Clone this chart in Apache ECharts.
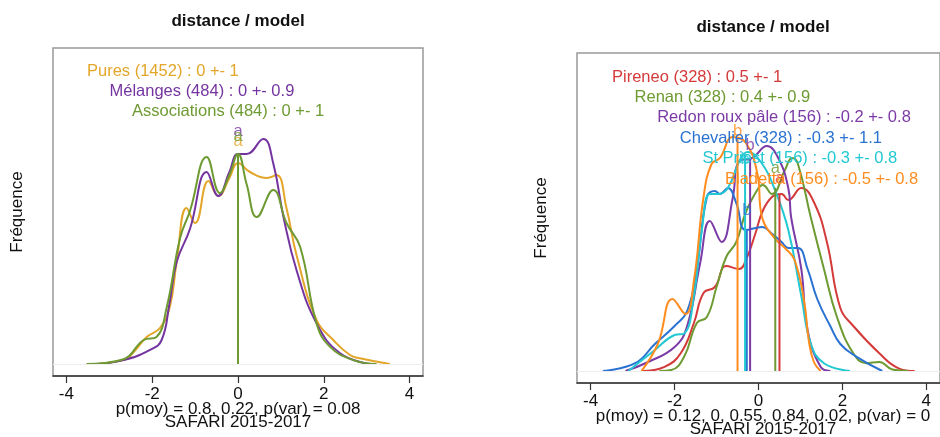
<!DOCTYPE html>
<html><head><meta charset="utf-8">
<script src="https://cdn.jsdelivr.net/npm/echarts@6/dist/echarts.min.js"></script>
<style>html,body{margin:0;padding:0;background:#fff}#c{width:940px;height:437px}</style>
</head><body><div id="c"></div>
<script>
// ---------- DATA ----------
var xTicks = [-4, -2, 0, 2, 4];
var titleText = 'distance / model';
var yLabelText = 'Fréquence';
var footerText = 'SAFARI 2015-2017';

// Left panel
var leftNames  = ['Pures', 'Mélanges', 'Associations'];
var leftCounts = [1452, 484, 484];
var leftMeans  = [0, 0, 0];
var leftSds    = [1, 0.9, 1];
var leftLetters = ['a', 'a', 'a'];
var leftPText = 'p(moy) = 0.8, 0.22, p(var) = 0.08';

var puresX = [-3.53,-2.67,-2.4,-2.13,-1.82,-1.59,-1.43,-1.2,-1.0,-0.69,-0.46,-0.2,0,0.28,0.67,0.9,1.13,1.37,1.83,2.22,2.61,2.84,3.54];
var puresY = [0,0.013,0.045,0.09,0.12,0.19,0.34,0.52,0.47,0.61,0.56,0.62,0.67,0.64,0.62,0.63,0.52,0.36,0.147,0.08,0.03,0.019,0];
var melX = [-3.37,-2.67,-2.05,-1.78,-1.6,-1.43,-1.12,-0.73,-0.46,-0.2,0,0.2,0.59,0.82,1.06,1.37,1.83,2.38,3.08];
var melY = [0,0.013,0.047,0.08,0.2,0.34,0.45,0.64,0.56,0.64,0.70,0.70,0.75,0.67,0.49,0.31,0.136,0.036,0];
var assocX = [-3.53,-2.67,-2.2,-1.9,-1.66,-1.35,-1.12,-0.73,-0.42,-0.2,0,0.2,0.44,0.82,1.13,1.45,1.83,2.14,2.69,3.23];
var assocY = [0,0.016,0.08,0.09,0.19,0.42,0.51,0.69,0.57,0.63,0.70,0.60,0.49,0.58,0.47,0.39,0.136,0.058,0.013,0];

// Right panel
var rightNames  = ['Pireneo', 'Renan', 'Redon roux pâle', 'Chevalier', 'St Priest', 'Bladetta'];
var rightCounts = [328, 328, 156, 328, 156, 156];
var rightMeans  = [0.5, 0.4, -0.2, -0.28, -0.32, -0.5];
var rightSds    = [1, 0.9, 0.8, 1.1, 0.8, 0.8];
var rightLetters = ['a', 'a', 'b', 'b', 'b', 'b'];
var rightPText = 'p(moy) = 0.12, 0, 0.55, 0.84, 0.02, p(var) = 0';

var pirX = [-2.78,-2.24,-1.85,-1.54,-1.31,-1.04,-0.77,-0.46,-0.3,-0.07,0.09,0.32,0.55,0.71,1.02,1.33,1.63,1.95,2.26,2.88,3.34,3.72];
var pirY = [0,0.014,0.06,0.16,0.26,0.28,0.35,0.34,0.37,0.46,0.53,0.58,0.59,0.57,0.61,0.56,0.43,0.21,0.15,0.059,0.009,0];
var renX = [-2.36,-2.08,-1.77,-1.47,-1.23,-1.0,-0.77,-0.53,-0.3,0.0,0.1,0.32,0.63,0.8,0.94,1.25,1.56,1.87,2.26,2.57,2.88,3.19,3.57];
var renY = [0,0.003,0.048,0.16,0.18,0.28,0.38,0.43,0.53,0.61,0.62,0.59,0.67,0.71,0.69,0.51,0.34,0.18,0.059,0.026,0.03,0.005,0];
var redX = [-3.17,-2.63,-2.0,-1.7,-1.39,-1.16,-0.88,-0.61,-0.46,-0.15,0.2,0.47,0.71,0.78,1.02,1.17,1.48,1.71];
var redY = [0,0.03,0.08,0.15,0.36,0.50,0.43,0.58,0.70,0.71,0.75,0.71,0.61,0.51,0.34,0.137,0.014,0];
var chevX = [-3.71,-2.94,-2.47,-2.0,-1.7,-1.47,-1.23,-1.04,-0.92,-0.73,-0.53,-0.3,0.09,0.3,0.55,0.71,0.94,1.17,1.4,1.71,1.95,2.33,2.95];
var chevY = [0,0.026,0.09,0.15,0.2,0.34,0.58,0.60,0.59,0.61,0.56,0.47,0.48,0.46,0.43,0.41,0.41,0.34,0.24,0.15,0.09,0.048,0];
var stpX = [-3.1,-2.47,-2.0,-1.77,-1.54,-1.35,-1.16,-0.96,-0.73,-0.42,-0.26,0.09,0.4,0.71,1.02,1.25,1.56,2.18];
var stpY = [0,0.07,0.12,0.125,0.25,0.47,0.59,0.59,0.61,0.71,0.73,0.69,0.6,0.47,0.25,0.09,0.026,0];
var bladX = [-2.79,-2.4,-2.05,-1.74,-1.54,-1.31,-1.12,-0.92,-0.61,-0.3,-0.03,0.09,0.4,0.63,0.86,1.09,1.2,1.32,1.48];
var bladY = [0,0.09,0.24,0.19,0.30,0.58,0.69,0.71,0.78,0.76,0.66,0.51,0.44,0.41,0.37,0.23,0.1,0.03,0];

// ---------- STYLE ----------
var FONT = "'Liberation Sans', Arial, Helvetica, sans-serif";
var FS = 16.5;
var leftColors  = ['#E3A628', '#7434A0', '#6E9A32'];
var rightColors = ['#D43A3A', '#6E9A32', '#7B3AA6', '#2A72D2', '#22C8D2', '#FF8C1E'];
var leftLetterOffset  = [-13, -14, -9];
var rightLetterOffset = [-8, -11, -5, -11, 14, 1];

function interp(xs, ys, m) {
  for (var i = 0; i < xs.length - 1; i++) {
    if (m >= xs[i] && m <= xs[i+1]) {
      var t = (m - xs[i]) / (xs[i+1] - xs[i]);
      return ys[i] + t * (ys[i+1] - ys[i]);
    }
  }
  return 0;
}
function fmt(v) { return String(Number(v.toFixed(1))); }

var series = [];
var graphics = [];

function addPanel(gi, xsList, ysList, colors, means, letters, offs, names, counts, sds, legX, legY, legDX, legDY) {
  series.push({
    type: 'line', xAxisIndex: gi, yAxisIndex: gi, data: [], silent: true,
    markLine: { silent: true, symbol: ['none','none'], label: {show:false},
      lineStyle: {color:'#eeeeee', width:1, type:'solid'}, data: [{yAxis: 0}] }
  });
  for (var k = 0; k < xsList.length; k++) {
    var xs = xsList[k], ys = ysList[k];
    series.push({
      type: 'line', xAxisIndex: gi, yAxisIndex: gi,
      data: xs.map(function (x, i) { return [x, ys[i]]; }),
      smooth: 0.45, showSymbol: false, silent: true,
      lineStyle: { color: colors[k], width: 2 }, z: 3
    });
  }
  for (var k = 0; k < xsList.length; k++) {
    var h = interp(xsList[k], ysList[k], means[k]);
    series.push({
      type: 'line', xAxisIndex: gi, yAxisIndex: gi,
      data: [[means[k], 0], [means[k], h]],
      showSymbol: false, silent: true,
      lineStyle: { color: colors[k], width: 2 }, z: 4
    });
    series.push({
      type: 'scatter', xAxisIndex: gi, yAxisIndex: gi, symbolSize: 0,
      data: [[means[k], h]], silent: true, z: 5,
      label: { show: true, position: 'top', distance: 0, offset: [0, offs[k]],
        formatter: letters[k], color: colors[k], fontSize: FS, fontFamily: FONT }
    });
    graphics.push({
      type: 'text', x: legX + k * legDX, y: legY + k * legDY, z: 10,
      style: { text: names[k] + ' (' + counts[k] + ') : ' + fmt(means[k]) + ' +- ' + sds[k],
        fill: colors[k], fontSize: FS, fontFamily: FONT,
        textAlign: 'left', textVerticalAlign: 'middle', align: 'left', verticalAlign: 'middle' }
    });
  }
}

addPanel(0, [puresX, melX, assocX], [puresY, melY, assocY], leftColors, leftMeans, leftLetters,
  leftLetterOffset, leftNames, leftCounts, leftSds, 87, 71, 22.5, 20.3);
addPanel(1, [pirX, renX, redX, chevX, stpX, bladX], [pirY, renY, redY, chevY, stpY, bladY],
  rightColors, rightMeans, rightLetters, rightLetterOffset, rightNames, rightCounts, rightSds,
  612, 77, 22.6, 20.4);

function txt(t, x, y, opts) {
  var o = { type: 'text', x: x, y: y, z: 10,
    style: { text: t, fill: opts.color || '#111', fontSize: opts.size || FS,
      fontWeight: opts.bold ? 'bold' : 'normal', fontFamily: FONT,
      textAlign: 'center', textVerticalAlign: 'middle', align: 'center', verticalAlign: 'middle' } };
  if (opts.rot) o.rotation = opts.rot;
  return o;
}
graphics.push(txt(titleText, 238, 21, {bold: true, size: 17}));
graphics.push(txt(titleText, 763, 27, {bold: true, size: 17}));
graphics.push(txt(yLabelText, 17, 212, {rot: Math.PI / 2, size: 17}));
graphics.push(txt(yLabelText, 541, 218, {rot: Math.PI / 2, size: 17}));
graphics.push(txt(leftPText, 238, 409, {size: 17}));
graphics.push(txt(footerText, 238, 422, {size: 17}));
graphics.push(txt(rightPText, 763, 416, {size: 17}));
graphics.push(txt(footerText, 763, 429, {size: 17}));

function xAxisCfg(gi, lim) {
  return {
    gridIndex: gi, type: 'value', min: -lim, max: lim,
    axisLine: { show: true, onZero: false, lineStyle: { color: '#333', width: 1.5 } },
    axisTick: { show: true, customValues: xTicks, length: 7, lineStyle: { color: '#333', width: 1.2 } },
    axisLabel: { show: true, customValues: xTicks, fontSize: 17, color: '#111', margin: 10, fontFamily: FONT },
    splitLine: { show: false }
  };
}

var chart = echarts.init(document.getElementById('c'), null, { renderer: 'canvas' });
chart.setOption({
  animation: false,
  backgroundColor: '#fff',
  grid: [
    { left: 53, top: 48, width: 370, height: 328, show: true, borderColor: '#999', borderWidth: 1.5, backgroundColor: 'transparent' },
    { left: 577, top: 53, width: 372, height: 330, show: true, borderColor: '#999', borderWidth: 1.5, backgroundColor: 'transparent' }
  ],
  xAxis: [xAxisCfg(0, 4.3125), xAxisCfg(1, 4.326)],
  yAxis: [
    { gridIndex: 0, type: 'value', min: -0.04, max: 1.0533, show: false },
    { gridIndex: 1, type: 'value', min: -0.04, max: 1.06, show: false }
  ],
  series: series,
  graphic: graphics
});
</script>
</body></html>
